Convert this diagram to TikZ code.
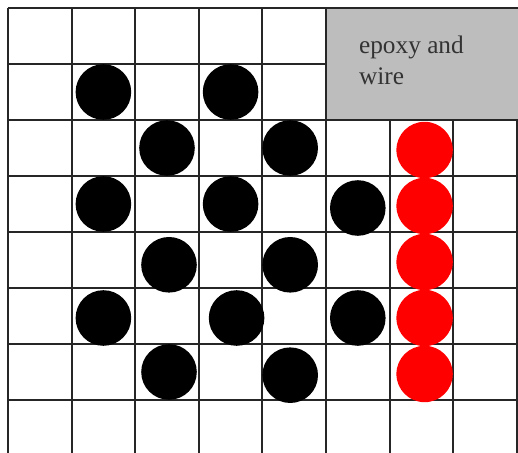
\documentclass[tikz,border=0pt]{standalone}
\usepackage{fontspec}
\setmainfont{Liberation Serif}
\begin{document}
\begin{tikzpicture}
	\def\W{1.59}
	\def\H{1.40}
	\useasboundingbox (0,0) rectangle (12.95,-11.325);
	\tikzstyle{gridline}=[black!85, line width=1.3pt]
	\tikzstyle{blackdot}=[circle, fill=black, inner sep=0pt, minimum size=1.39cm]
	\tikzstyle{reddot}=[circle, fill=red, inner sep=0pt, minimum size=1.41cm]
	\foreach \i in {0,...,8}
		\draw[gridline] ({0.2+\i*\W},-0.2) -- ({0.2+\i*\W},-11.325);
	\foreach \j in {0,...,7}
		\draw[gridline] (0.2,{-0.2-\j*\H}) -- (12.95,{-0.2-\j*\H});
	% epoxy block in the top right corner
	\fill[black!26] ({0.2+5*\W},-0.2) rectangle (12.95,{-0.2-2*\H});
	\draw[gridline] (12.95,-0.2) -- ({0.2+5*\W},-0.2) -- ({0.2+5*\W},{-0.2-2*\H}) -- (12.95,{-0.2-2*\H});
	\node[anchor=north west, inner sep=0pt, align=left, text=black!80, font=\fontsize{18}{22}\selectfont] (epoxy) at (8.97,-0.9) {epoxy and\\wire};
	% black wires
	\foreach \c/\r/\dx/\dy in {1/1/0/0, 3/1/0/0, 2/2/0/0, 4/2/-0.1/0, 1/3/0/0, 3/3/0/0, 5/3/0/0.1, 2/4/0.05/0.12, 4/4/-0.1/0.12, 1/5/0/0.05, 3/5/0.15/0.05, 5/5/0/0.05, 2/6/0.05/0, 4/6/-0.1/0.08}
		\node[blackdot] (b\c\r) at ({0.2+(\c+0.5)*\W+(\dx)},{-0.2-(\r+0.5)*\H-(\dy)}) {};
	% red wires
	\foreach \r in {2,...,6}
		\node[reddot] (r\r) at ({0.2+6.5*\W+0.08},{-0.2-(\r+0.5)*\H-0.05}) {};
\end{tikzpicture}
\end{document}
